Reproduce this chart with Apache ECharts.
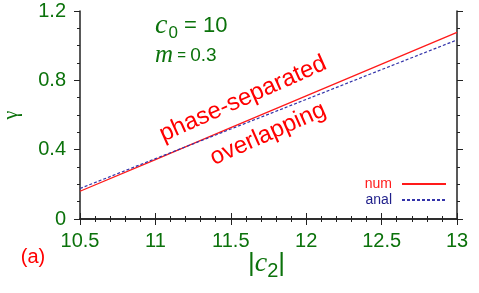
<!DOCTYPE html>
<html>
<head>
<meta charset="utf-8">
<script src="https://cdn.jsdelivr.net/npm/echarts@6/dist/echarts.min.js"></script>
<style>html,body{margin:0;padding:0;background:#fff}#c{width:479px;height:293px}</style>
</head>
<body>
<div id="c"></div>
<script>
const xValues = [10.5, 11, 11.5, 12, 12.5, 13];
const numValues = [0.160, 0.343, 0.527, 0.710, 0.894, 1.077];
const analValues = [0.176, 0.348, 0.519, 0.690, 0.862, 1.033];
const seriesNames = ['num', 'anal'];

const GREEN = '#0b720b';
const RED = '#ff1a1a';
const BLUE = '#3333aa';
const SANS = '"Liberation Sans", Arial, sans-serif';
const SERIF = '"Liberation Serif", "Times New Roman", serif';

const chart = echarts.init(document.getElementById('c'), null, {renderer: 'canvas'});

const axisLine = {show: true, lineStyle: {color: '#222', width: 1.5}};
const baseX = {
  type: 'value', min: 10.5, max: 13, interval: 0.5,
  axisLine: axisLine,
  axisTick: {show: true, inside: false, length: 6, lineStyle: {color: '#222', width: 1}},
  minorTick: {show: true, splitNumber: 5, length: 3, lineStyle: {color: '#222', width: 1}},
  splitLine: {show: false}
};
const baseY = {
  type: 'value', min: 0, max: 1.2, interval: 0.4,
  axisLine: axisLine,
  axisTick: {show: true, inside: false, length: 6, lineStyle: {color: '#222', width: 1}},
  minorTick: {show: true, splitNumber: 4, length: 3, lineStyle: {color: '#222', width: 1}},
  splitLine: {show: false}
};

chart.setOption({
  animation: false,
  grid: {left: 80, right: 22, top: 11, bottom: 74, containLabel: false, outerBoundsMode: 'none'},
  xAxis: [
    Object.assign({}, baseX, {
      position: 'bottom',
      axisLabel: {color: GREEN, fontSize: 20, fontFamily: SANS, margin: 12,
        formatter: v => String(v)}
    }),
    Object.assign({}, baseX, {position: 'top', axisLabel: {show: false}})
  ],
  yAxis: [
    Object.assign({}, baseY, {
      position: 'left',
      name: 'γ', nameLocation: 'middle', nameRotate: 90, nameGap: 58,
      nameTextStyle: {color: GREEN, fontSize: 20, fontFamily: SERIF},
      axisLabel: {color: GREEN, fontSize: 20, fontFamily: SANS, margin: 14,
        formatter: v => String(v)}
    }),
    Object.assign({}, baseY, {position: 'right', axisLabel: {show: false}})
  ],
  legend: {
    orient: 'vertical', right: 32, top: 177, align: 'right', padding: 0,
    itemWidth: 44, itemHeight: 14, itemGap: 2,
    textStyle: {fontSize: 14, fontFamily: SANS, padding: [0, 5, 0, 0]},
    itemStyle: {opacity: 0, borderWidth: 0},
    data: [
      {name: seriesNames[0], textStyle: {color: RED}},
      {name: seriesNames[1], textStyle: {color: '#1f1f8a'}}
    ]
  },
  series: [
    {
      name: seriesNames[0], type: 'line', xAxisIndex: 0, yAxisIndex: 0,
      data: xValues.map((x, i) => [x, numValues[i]]),
      symbol: 'none',
      lineStyle: {color: RED, width: 1.3}, itemStyle: {color: RED}
    },
    {
      name: seriesNames[1], type: 'line', xAxisIndex: 0, yAxisIndex: 0,
      data: xValues.map((x, i) => [x, analValues[i]]),
      symbol: 'none',
      lineStyle: {color: BLUE, width: 1.2, type: [3, 2]}, itemStyle: {color: BLUE}
    }
  ],
  graphic: [
    {
      type: 'text', left: 155, top: 12,
      style: {
        rich: {
          c: {fontFamily: SERIF, fontStyle: 'italic', fontSize: 28, fill: GREEN},
          s: {fontFamily: SANS, fontSize: 17, fill: GREEN, padding: [14, 0, 0, 1]},
          t: {fontFamily: SANS, fontSize: 22, fill: GREEN}
        },
        text: '{c|c}{s|0}{t| = 10}'
      }
    },
    {
      type: 'text', left: 155, top: 43,
      style: {
        rich: {
          m: {fontFamily: SERIF, fontStyle: 'italic', fontSize: 25, fill: GREEN},
          e: {fontFamily: SANS, fontSize: 15, fill: GREEN},
          t: {fontFamily: SANS, fontSize: 19, fill: GREEN}
        },
        text: '{m|m}{e| = }{t|0.3}'
      }
    },
    {
      type: 'text', x: 243, y: 99, rotation: 24 * Math.PI / 180,
      style: {text: 'phase-separated', fontFamily: SANS, fontSize: 24, fill: '#ff0000',
        align: 'center', verticalAlign: 'middle'}
    },
    {
      type: 'text', x: 268, y: 134, rotation: 24 * Math.PI / 180,
      style: {text: 'overlapping', fontFamily: SANS, fontSize: 24, fill: '#ff0000',
        align: 'center', verticalAlign: 'middle'}
    },
    {
      type: 'text', x: 33, y: 257,
      style: {text: '(a)', fontFamily: SANS, fontSize: 20, fill: '#ff0000',
        align: 'center', verticalAlign: 'middle'}
    },
    {
      type: 'text', left: 248, top: 250,
      style: {
        rich: {
          b: {fontFamily: SANS, fontSize: 26, fill: GREEN},
          c: {fontFamily: SERIF, fontStyle: 'italic', fontSize: 28, fill: GREEN},
          s: {fontFamily: SANS, fontSize: 20, fill: GREEN, padding: [14, 0, 0, 0]}
        },
        text: '{b||}{c|c}{s|2}{b||}'
      }
    }
  ]
});
</script>
</body>
</html>
